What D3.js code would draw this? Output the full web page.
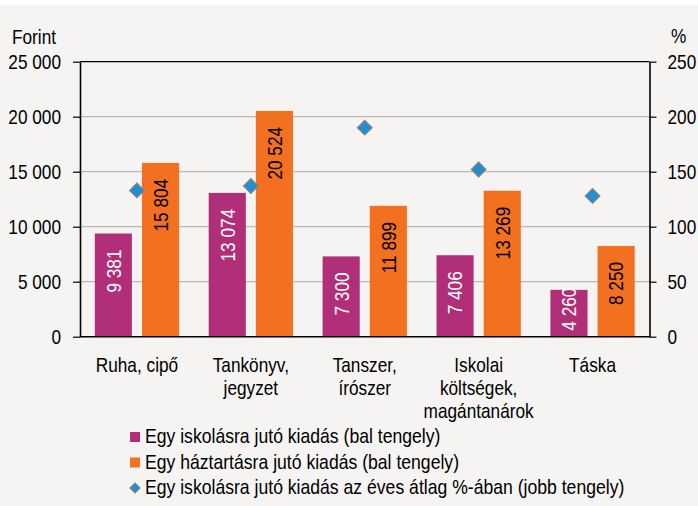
<!DOCTYPE html>
<html>
<head>
<meta charset="utf-8">
<script src="https://cdn.jsdelivr.net/npm/d3@7"></script>
<style>
  body { margin: 0; background: #ffffff; }
  text { font-family: "Liberation Sans", Arial, sans-serif; }
</style>
</head>
<body>
<div id="chart"></div>
<script>
// categories and values
const categories = ["Ruha, cipő", "Tankönyv, jegyzet", "Tanszer, írószer", "Iskolai költségek, magántanárok", "Táska"];
const categoryLines = [["Ruha, cipő"], ["Tankönyv,", "jegyzet"], ["Tanszer,", "írószer"], ["Iskolai", "költségek,", "magántanárok"], ["Táska"]];
const perPupil = [9381, 13074, 7300, 7406, 4260];
const perHousehold = [15804, 20524, 11899, 13269, 8250];
const pctOfAverage = [133, 137, 190, 152, 128];
const leftTicks = [0, 5000, 10000, 15000, 20000, 25000];
const rightTicks = [0, 50, 100, 150, 200, 250];
const seriesNames = ["Egy iskolásra jutó kiadás (bal tengely)", "Egy háztartásra jutó kiadás (bal tengely)", "Egy iskolásra jutó kiadás az éves átlag %-ában (jobb tengely)"];

const W = 698, H = 506;
const plot = {left: 80, right: 649.5, top: 61.7, bottom: 336.7};
const purple = "#b02f78", orange = "#f37021", blue = "#1e8fd5";
const squeeze = 0.82; // no narrow font installed, so squeeze Liberation Sans like Arial Narrow

// squeeze text horizontally
function narrow(sel, k = squeeze) {
  sel.each(function() {
    const len = this.getComputedTextLength();
    this.setAttribute("textLength", len * k);
    this.setAttribute("lengthAdjust", "spacingAndGlyphs");
  });
}

const svg = d3.select("#chart").append("svg")
    .attr("width", W)
    .attr("height", H);

// background panel
svg.append("rect").attr("x", 0).attr("y", 5).attr("width", W).attr("height", H - 5).attr("fill", "#f5f4f2");

const fmt = d3.formatLocale({decimal: ",", thousands: " ", grouping: [3], currency: ["", ""]}).format(",d");

const x = d3.scaleBand()
    .domain(categories)
    .range([plot.left, plot.right])
    .paddingInner(0.26)
    .paddingOuter(0.13);
const xs = d3.scaleBand()
    .domain(["pupil", "household"])
    .range([0, x.bandwidth()])
    .paddingInner(0.213);
const y = d3.scaleLinear().domain([0, 25000]).range([plot.bottom, plot.top]);
const y2 = d3.scaleLinear().domain([0, 250]).range([plot.bottom, plot.top]);

// gridlines
svg.append("g")
  .selectAll("line")
  .data(leftTicks.slice(1, -1))
  .join("line")
    .attr("x1", plot.left).attr("x2", plot.right)
    .attr("y1", d => y(d)).attr("y2", d => y(d))
    .attr("stroke", "#b9b9b9").attr("stroke-width", 1.2);

// top frame line
svg.append("line")
    .attr("x1", plot.left).attr("x2", plot.right)
    .attr("y1", y(25000)).attr("y2", y(25000))
    .attr("stroke", "#000").attr("stroke-width", 1.2);

// bars
const data = categories.map((c, i) => ({cat: c, pupil: perPupil[i], household: perHousehold[i], pct: pctOfAverage[i]}));
const bars = [];
data.forEach(d => {
  bars.push({cat: d.cat, key: "pupil", value: d.pupil});
  bars.push({cat: d.cat, key: "household", value: d.household});
});

svg.append("g")
  .selectAll("rect")
  .data(bars)
  .join("rect")
    .attr("x", d => x(d.cat) + xs(d.key))
    .attr("y", d => y(d.value))
    .attr("width", xs.bandwidth())
    .attr("height", d => y(0) - y(d.value))
    .attr("fill", d => d.key === "pupil" ? purple : orange);

// value labels, rotated, near the inside end of the bar
const labels = svg.append("g")
  .selectAll("text")
  .data(bars)
  .join("text")
    .attr("font-size", "21px")
    .attr("fill", d => d.key === "pupil" ? "#fff" : "#000")
    .attr("text-anchor", "end")
    .attr("dy", "0.35em")
    .text(d => fmt(d.value));
labels.each(function(d) {
  const len = this.getComputedTextLength() * squeeze;
  const topEnd = Math.min(y(d.value) + 16, y(0) - 6 - len);
  const cx = x(d.cat) + xs(d.key) + xs.bandwidth() / 2;
  d3.select(this).attr("transform", `translate(${cx},${topEnd}) rotate(-90)`);
});
narrow(labels);

// diamonds on the right axis
svg.append("g")
  .selectAll("path")
  .data(data)
  .join("path")
    .attr("d", d3.symbol(d3.symbolSquare, 105))
    .attr("transform", d => `translate(${x(d.cat) + x.bandwidth() / 2},${y2(d.pct)}) rotate(45)`)
    .attr("fill", blue)
    .attr("stroke", "#808080")
    .attr("stroke-width", 1.3);

// axes
const leftAxis = svg.append("g")
    .attr("transform", `translate(${plot.left},0)`)
    .call(d3.axisLeft(y).tickValues(leftTicks).tickFormat(fmt).tickSize(7).tickPadding(12).tickSizeOuter(0));
const rightAxis = svg.append("g")
    .attr("transform", `translate(${plot.right},0)`)
    .call(d3.axisRight(y2).tickValues(rightTicks).tickSize(7).tickPadding(11).tickSizeOuter(0));
[leftAxis, rightAxis].forEach(a => {
  a.select(".domain").attr("stroke", "#000").attr("stroke-width", 1.6);
  a.selectAll(".tick line").attr("stroke", "#000").attr("stroke-width", 1.2);
  a.selectAll(".tick text")
    .attr("font-family", "Liberation Sans, Arial, sans-serif")
    .attr("font-size", "21px")
    .attr("fill", "#000")
    .call(narrow);
});

// baseline
svg.append("line")
    .attr("x1", plot.left).attr("x2", plot.right)
    .attr("y1", y(0)).attr("y2", y(0))
    .attr("stroke", "#000").attr("stroke-width", 1.6);

// category labels
const catText = svg.append("g")
  .selectAll("text")
  .data(categories)
  .join("text")
    .attr("text-anchor", "middle")
    .attr("font-size", "21px")
    .attr("fill", "#000");
catText.each(function(c, i) {
  d3.select(this).selectAll("tspan")
    .data(categoryLines[i])
    .join("tspan")
      .attr("x", x(c) + x.bandwidth() / 2)
      .attr("y", (l, j) => 372 + j * 23)
      .text(l => l)
      .call(narrow);
});

// axis titles
svg.append("text").attr("x", 12).attr("y", 44).attr("font-size", "21px").text("Forint").call(narrow);
svg.append("text").attr("x", 671).attr("y", 43).attr("font-size", "21px").text("%").call(narrow);

// legend
const legend = svg.append("g");
const legY = [443, 468.5, 494];
legend.selectAll("text")
  .data(seriesNames)
  .join("text")
    .attr("x", 145)
    .attr("y", (d, i) => legY[i])
    .attr("font-size", "21px")
    .text(d => d)
    .call(narrow, 0.838);
legend.append("rect").attr("x", 130).attr("y", legY[0] - 11).attr("width", 10).attr("height", 10).attr("fill", purple);
legend.append("rect").attr("x", 130).attr("y", legY[1] - 11).attr("width", 10).attr("height", 10).attr("fill", orange);
legend.append("path")
    .attr("d", d3.symbol(d3.symbolSquare, 50))
    .attr("transform", `translate(135,${legY[2] - 6}) rotate(45)`)
    .attr("fill", blue)
    .attr("stroke", "#808080")
    .attr("stroke-width", 1);
</script>
</body>
</html>
